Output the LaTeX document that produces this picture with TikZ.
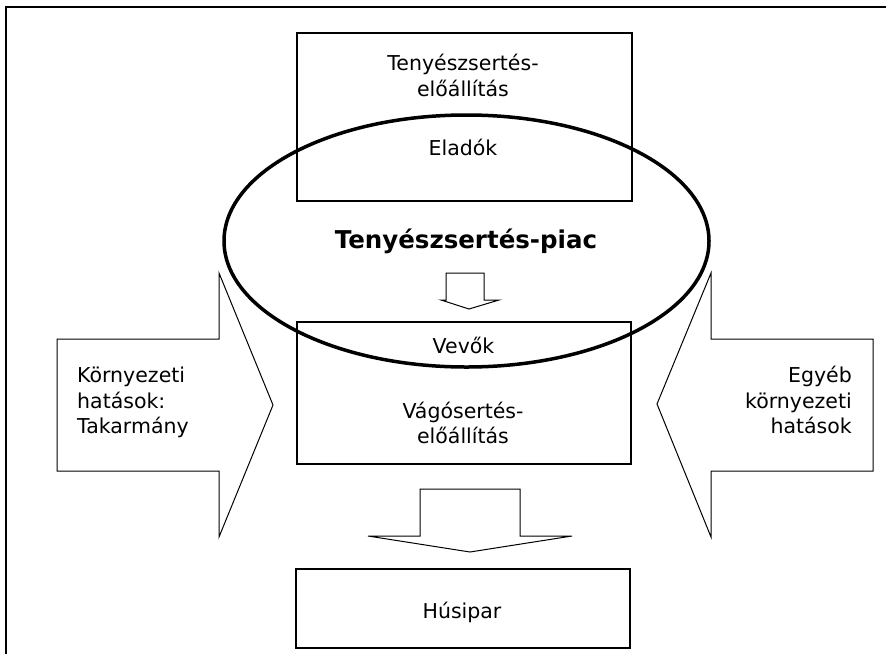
\documentclass[tikz,border=0pt]{standalone}
\usepackage{fontspec}
\setmainfont{DejaVu Sans}
\usetikzlibrary{shapes.geometric}
\tikzset{
  box/.style={draw, line width=1.3pt, minimum width=#1, inner sep=0pt},
  txt/.style={anchor=base, inner sep=0pt, font=\fontsize{20.5}{25}\selectfont},
  txtl/.style={txt, anchor=base west},
  txtr/.style={txt, anchor=base east},
  blockarrow/.style={draw, line width=1pt, line join=miter},
}
\begin{document}
\begin{tikzpicture}[x=1pt,y=-1pt]
\useasboundingbox (0,0) rectangle (886,654);
% outer frame (cut at right and bottom)
\draw[line width=2.5pt] (6,654) -- (6,7) -- (886,7);
% boxes
\node[box=335pt, minimum height=168pt] (top) at (464.5,117) {};
\node[box=334pt, minimum height=142pt] (mid) at (464,393) {};
\node[box=334pt, minimum height=79pt] (bot) at (463,608.5) {};
% box texts
\node[txt] (t1) at (463,70) {Tenyészsertés-};
\node[txt] (t2) at (463,96.5) {előállítás};
\node[txt] (t3) at (463,155) {Eladók};
\node[txt] (m1) at (463.5,353) {Vevők};
\node[txt] (m2) at (463,418) {Vágósertés-};
\node[txt] (m3) at (463,443) {előállítás};
\node[txt] (b1) at (462,618) {Húsipar};
% ellipse
\node[draw, ellipse, line width=3.5pt, minimum width=485pt, minimum height=252pt, inner sep=0pt] (market) at (466.5,241) {};
\node[anchor=base, inner sep=0pt, font=\fontsize{24.5}{29}\selectfont\bfseries] (mt) at (466,248) {Tenyészsertés-piac};
% small down arrow
\draw[blockarrow] (446,273) -- (484,273) -- (484,300) -- (499,300) -- (469,309) -- (441,300) -- (446,300) -- cycle;
% big down arrow
\draw[blockarrow] (420,489) -- (520,489) -- (520,536) -- (572,536) -- (470,552) -- (368,536) -- (420,536) -- cycle;
% left arrow
\draw[blockarrow] (57,339) -- (219,339) -- (219,273) -- (273,405) -- (219,537) -- (219,471) -- (57,471) -- cycle;
\node[txtl] (l1) at (77,382.5) {Környezeti};
\node[txtl] (l2) at (77,408) {hatások:};
\node[txtl] (l3) at (77,433.5) {Takarmány};
% right arrow
\draw[blockarrow] (873,339) -- (711,339) -- (711,273) -- (657,404) -- (711,537) -- (711,471) -- (873,471) -- cycle;
\node[txtr] (r1) at (852,382.5) {Egyéb};
\node[txtr] (r2) at (852,408) {környezeti};
\node[txtr] (r3) at (852,433.5) {hatások};
\end{tikzpicture}
\end{document}
